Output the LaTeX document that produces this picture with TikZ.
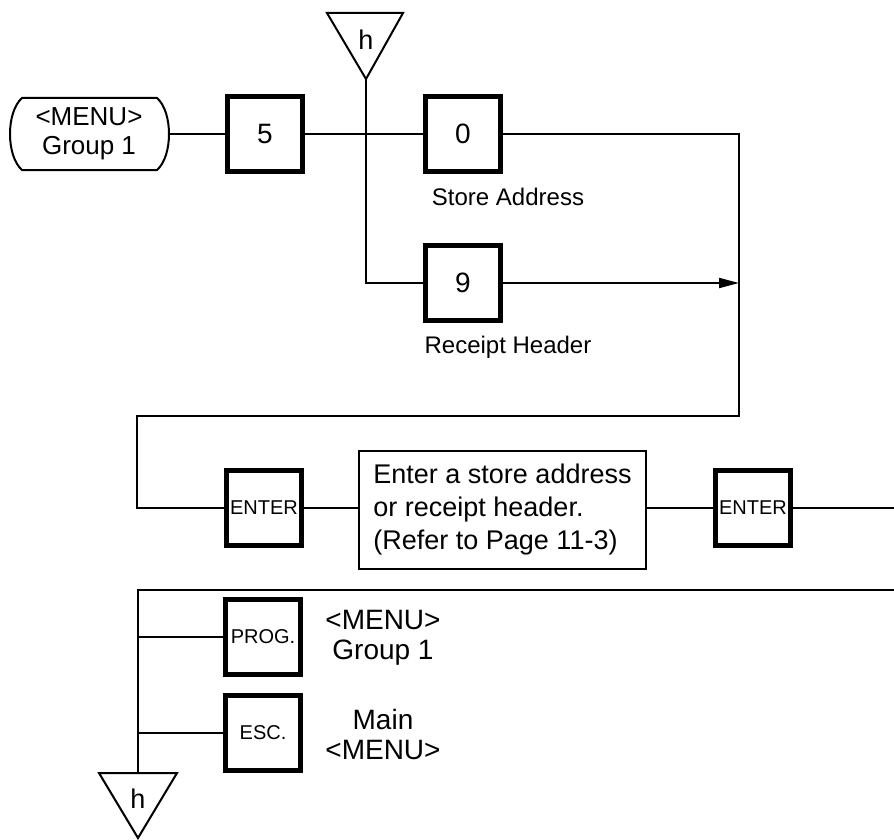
\documentclass[tikz,border=0pt]{standalone}
\usepackage{fontspec}
\setmainfont{Liberation Sans}
\usetikzlibrary{arrows.meta}
\begin{document}
\begin{tikzpicture}[x=1pt,y=-1pt,
  line width=2pt,
  keybox/.style={draw, line width=5pt, minimum size=75pt, inner sep=0pt, font=\fontsize{28}{30}\selectfont},
  smallkey/.style={keybox, font=\fontsize{20}{22}\selectfont},
  lbl/.style={font=\fontsize{24}{28}\selectfont, inner sep=0pt},
  biglbl/.style={font=\fontsize{28}{30}\selectfont, align=center, inner sep=0pt},
  tri/.style={font=\fontsize{27}{28}\selectfont, inner sep=0pt}]
\useasboundingbox (0,0) rectangle (894,840);

% menu start node
\node[font=\fontsize{26}{29}\selectfont, align=center, inner sep=0pt] (menu) at (89,134) {<MENU>\\Group 1};
\coordinate (mtl) at (22,98);
\coordinate (mtr) at (157,98);
\coordinate (mbr) at (157,170);
\coordinate (mbl) at (22,170);
\coordinate (mE) at (168,134);
\draw (mtl) -- (mtr) .. controls (173,112) and (173,156) .. (mbr) -- (mbl) .. controls (6,156) and (6,112) .. (mtl) -- cycle;

% keys
\node[keybox] (k5) at (265,134) {5};
\node[keybox] (k0) at (463,134) {0};
\node[keybox] (k9) at (463,283) {9};
\node[smallkey] (ent1) at (264,508) {ENTER};
\node[smallkey] (ent2) at (753,508) {ENTER};
\node[smallkey] (prog) at (263,637) {PROG.};
\node[smallkey] (esc) at (263,733) {ESC.};

\node[lbl] (sa) at (508,197) {Store Address};
\node[lbl] (rh) at (508,347) {Receipt Header};

% text box
\node[draw, minimum width=287pt, minimum height=118pt, align=left, inner sep=0pt,
      font=\fontsize{27}{33}\selectfont] (tb) at (502.5,510)
  {Enter a store address\\or receipt header.\\(Refer to Page 11-3)};

\node[biglbl] (l1) at (383,638) {<MENU>\\Group 1};
\node[biglbl] (l2) at (383,734) {Main\\<MENU>};

% triangles
\coordinate (t1a) at (327,13);
\coordinate (t1b) at (403,13);
\coordinate (t1c) at (366,79);
\draw (t1a) -- (t1b) -- (t1c) -- cycle;
\node[tri] (h1) at (366,40) {h};
\coordinate (t2a) at (99,773);
\coordinate (t2b) at (177,773);
\coordinate (t2c) at (138,838);
\coordinate (t2top) at (138,773);
\draw (t2a) -- (t2b) -- (t2c) -- cycle;
\node[tri] (h2) at (138,799) {h};

% connectors
\coordinate (rc) at (739,134);
\coordinate (ra) at (739,283);
\coordinate (rd) at (739,416);
\coordinate (ld) at (137,416);
\coordinate (le) at (137,508);
\coordinate (b9) at (366,283);
\coordinate (redge) at (894,508);
\coordinate (bline) at (894,590);
\coordinate (bl) at (138,590);
\coordinate (bp) at (138,637);
\coordinate (be) at (138,733);

\draw (mE) -- (k5.west);
\draw (k5.east) -- (k0.west);
\draw (t1c) -- (b9) -- (k9.west);
\draw (k0.east) -- (rc) -- (rd) -- (ld) -- (le) -- (ent1.west);
\draw[-{Triangle[length=20pt,width=10pt]}] (k9.east) -- (ra);
\draw (ent1.east) -- (ent1.east -| tb.west);
\draw (ent2.west -| tb.east) -- (ent2.west);
\draw (ent2.east) -- (redge);
\draw (bline) -- (bl) -- (t2top);
\draw (bp) -- (prog.west);
\draw (be) -- (esc.west);
\end{tikzpicture}
\end{document}
